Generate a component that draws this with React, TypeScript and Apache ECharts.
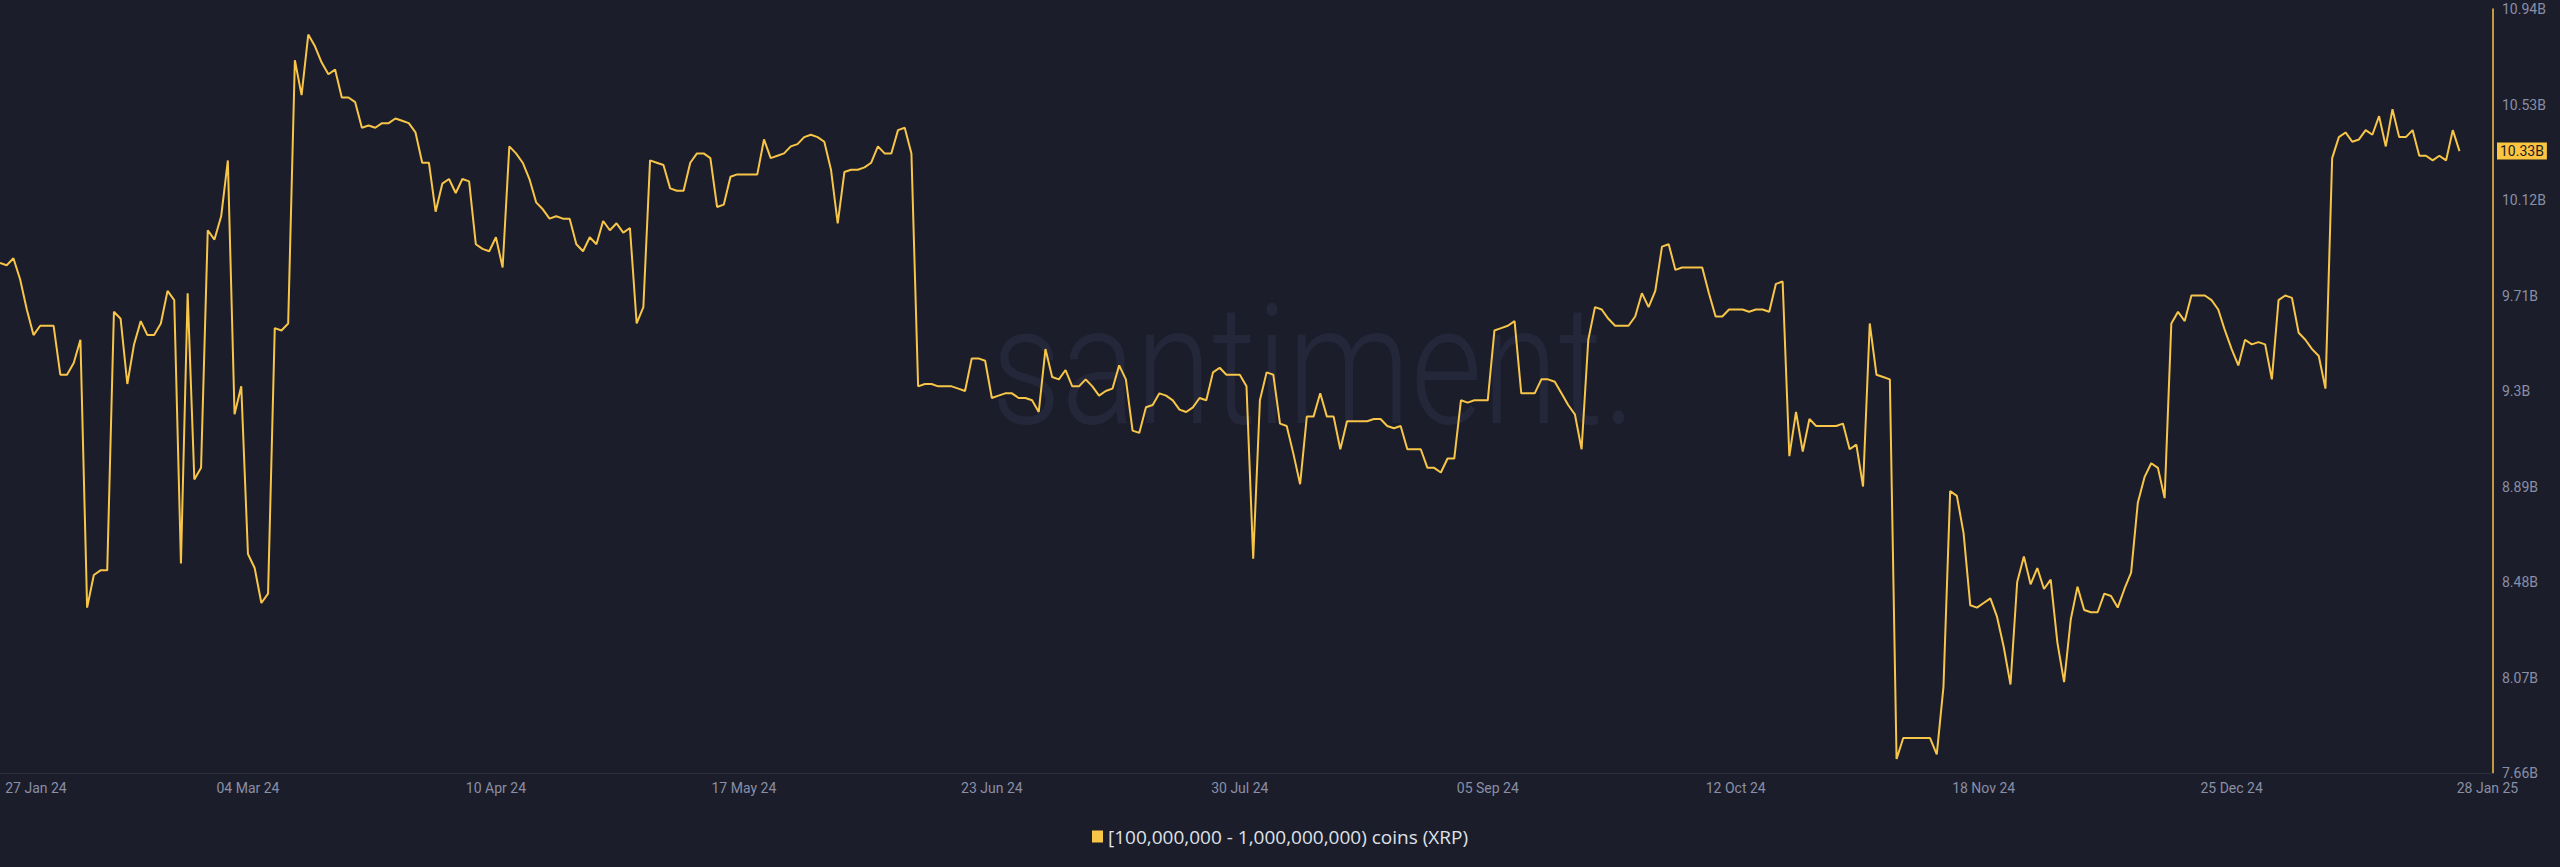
import React, { useEffect, useRef } from "react";
import * as echarts from "echarts";

// ---- data -------------------------------------------------------------
const SERIES_NAME = "[100,000,000 - 1,000,000,000) coins (XRP)";
const MONTHS = ["Jan", "Feb", "Mar", "Apr", "May", "Jun", "Jul", "Aug", "Sep", "Oct", "Nov", "Dec"];
const START = { year: 2024, month: 0, day: 27 }; // 27 Jan 24
const AXIS_DAYS = 373; // axis runs a few days past the last point
const LABEL_STEP = 37; // 27 Jan, 04 Mar, 10 Apr ... 25 Dec
const LAST_LABEL_INDEX = 367; // 28 Jan 25

const Y_MIN = 7.66;
const Y_MAX = 10.94;
const Y_STEP = 0.41;

// daily holdings, billions of XRP (27 Jan 24 -> 28 Jan 25)
const holdings: number[] = [
  9.85, 9.84, 9.87, 9.78, 9.65, 9.54, 9.58, 9.58, 9.58, 9.37,
  9.37, 9.42, 9.52, 8.37, 8.51, 8.53, 8.53, 9.64, 9.61, 9.33,
  9.50, 9.60, 9.54, 9.54, 9.59, 9.73, 9.69, 8.56, 9.72, 8.92,
  8.97, 9.99, 9.95, 10.05, 10.29, 9.20, 9.32, 8.60, 8.54, 8.39,
  8.43, 9.57, 9.56, 9.59, 10.72, 10.57, 10.83, 10.78, 10.71, 10.66,
  10.68, 10.56, 10.56, 10.54, 10.43, 10.44, 10.43, 10.45, 10.45, 10.47,
  10.46, 10.45, 10.41, 10.28, 10.28, 10.07, 10.19, 10.21, 10.15, 10.21,
  10.20, 9.93, 9.91, 9.90, 9.96, 9.83, 10.35, 10.32, 10.28, 10.21,
  10.11, 10.08, 10.04, 10.05, 10.04, 10.04, 9.93, 9.90, 9.96, 9.93,
  10.03, 9.99, 10.02, 9.98, 10.00, 9.59, 9.66, 10.29, 10.28, 10.27,
  10.17, 10.16, 10.16, 10.28, 10.32, 10.32, 10.30, 10.09, 10.10, 10.22,
  10.23, 10.23, 10.23, 10.23, 10.38, 10.30, 10.31, 10.32, 10.35, 10.36,
  10.39, 10.40, 10.39, 10.37, 10.25, 10.02, 10.24, 10.25, 10.25, 10.26,
  10.28, 10.35, 10.32, 10.32, 10.42, 10.43, 10.32, 9.32, 9.33, 9.33,
  9.32, 9.32, 9.32, 9.31, 9.30, 9.44, 9.44, 9.43, 9.27, 9.28,
  9.29, 9.29, 9.27, 9.27, 9.26, 9.21, 9.48, 9.36, 9.35, 9.39,
  9.32, 9.32, 9.35, 9.32, 9.28, 9.30, 9.31, 9.41, 9.35, 9.13,
  9.12, 9.23, 9.24, 9.29, 9.28, 9.26, 9.22, 9.21, 9.23, 9.27,
  9.26, 9.38, 9.40, 9.37, 9.37, 9.37, 9.32, 8.58, 9.26, 9.38,
  9.37, 9.16, 9.15, 9.03, 8.90, 9.19, 9.19, 9.29, 9.19, 9.19,
  9.05, 9.17, 9.17, 9.17, 9.17, 9.18, 9.18, 9.15, 9.14, 9.15,
  9.05, 9.05, 9.05, 8.97, 8.97, 8.95, 9.01, 9.01, 9.26, 9.25,
  9.26, 9.26, 9.26, 9.56, 9.57, 9.58, 9.60, 9.29, 9.29, 9.29,
  9.35, 9.35, 9.34, 9.29, 9.24, 9.20, 9.05, 9.52, 9.66, 9.65,
  9.61, 9.58, 9.58, 9.58, 9.62, 9.72, 9.66, 9.73, 9.92, 9.93,
  9.82, 9.83, 9.83, 9.83, 9.83, 9.72, 9.62, 9.62, 9.65, 9.65,
  9.65, 9.64, 9.65, 9.65, 9.64, 9.76, 9.77, 9.02, 9.21, 9.04,
  9.18, 9.15, 9.15, 9.15, 9.15, 9.16, 9.05, 9.07, 8.89, 9.59,
  9.37, 9.36, 9.35, 7.72, 7.81, 7.81, 7.81, 7.81, 7.81, 7.74,
  8.03, 8.87, 8.85, 8.69, 8.38, 8.37, 8.39, 8.41, 8.33, 8.20,
  8.04, 8.48, 8.59, 8.47, 8.54, 8.45, 8.49, 8.22, 8.05, 8.32,
  8.46, 8.36, 8.35, 8.35, 8.43, 8.42, 8.37, 8.45, 8.52, 8.82,
  8.93, 8.99, 8.97, 8.84, 9.59, 9.64, 9.60, 9.71, 9.71, 9.71,
  9.69, 9.65, 9.56, 9.48, 9.41, 9.52, 9.50, 9.51, 9.50, 9.35,
  9.69, 9.71, 9.70, 9.55, 9.52, 9.48, 9.45, 9.31, 10.30, 10.39,
  10.41, 10.37, 10.38, 10.42, 10.40, 10.48, 10.35, 10.51, 10.39, 10.39,
  10.42, 10.31, 10.31, 10.29, 10.31, 10.29, 10.42, 10.33,
];

const categories: string[] = Array.from({ length: AXIS_DAYS }, (_, i) => {
  const d = new Date(Date.UTC(START.year, START.month, START.day + i));
  const dd = String(d.getUTCDate()).padStart(2, "0");
  const yy = String(d.getUTCFullYear()).slice(2);
  return `${dd} ${MONTHS[d.getUTCMonth()]} ${yy}`;
});

// ---- style --------------------------------------------------------------
const BG = "#1b1d2b";
const YELLOW = "#f7c548";
const AXIS_TEXT = "#8a8fa6";
const FONT = "Roboto, 'Noto Sans', sans-serif";

export default function App() {
  const ref = useRef<HTMLDivElement | null>(null);

  useEffect(() => {
    if (!ref.current) return;
    const chart = echarts.init(ref.current, undefined, { renderer: "svg" });
    const last = holdings[holdings.length - 1];

    chart.setOption({
      animation: false,
      backgroundColor: BG,
      textStyle: { fontFamily: FONT },
      graphic: [
        {
          type: "text",
          z: 0,
          x: 991,
          y: 366,
          scaleX: 0.83,
          silent: true,
          style: {
            text: "santiment.",
            fill: "#232739",
            font: `300 167px ${FONT}`,
            align: "left",
            verticalAlign: "middle",
          },
        },
      ],
      grid: { left: 0, right: 67, top: 9, bottom: 94, containLabel: false },
      legend: {
        show: true,
        left: "center",
        top: 822,
        icon: "rect",
        itemWidth: 11,
        itemHeight: 12,
        itemGap: 10,
        textStyle: { color: "#dfe1e8", fontSize: 19, fontFamily: "'Open Sans', Roboto, sans-serif" },
        data: [SERIES_NAME],
      },
      xAxis: {
        type: "category",
        data: categories,
        boundaryGap: false,
        axisLine: { show: true, lineStyle: { color: "#2b2f40", width: 1 } },
        axisTick: { show: false },
        splitLine: { show: false },
        axisLabel: {
          color: AXIS_TEXT,
          fontSize: 14,
          fontFamily: FONT,
          margin: 8,
          interval: (i: number) =>
            (i % LABEL_STEP === 0 && i < LAST_LABEL_INDEX) || i === LAST_LABEL_INDEX,
          formatter: (value: string, index: number) => {
            if (index === 0) return `{first|${value}}`;
            if (index === LAST_LABEL_INDEX) return `{last|${value}}`;
            return value;
          },
          rich: {
            first: { padding: [0, 0, 0, 72], color: AXIS_TEXT, fontSize: 14, fontFamily: FONT },
            last: { padding: [0, 0, 0, 56], color: AXIS_TEXT, fontSize: 14, fontFamily: FONT },
          },
        },
      },
      yAxis: {
        type: "value",
        position: "right",
        min: Y_MIN,
        max: Y_MAX,
        interval: Y_STEP,
        axisLine: { show: true, lineStyle: { color: YELLOW, width: 1.5 } },
        axisTick: { show: false },
        splitLine: { show: false },
        axisLabel: {
          margin: 9,
          color: AXIS_TEXT,
          fontSize: 14,
          fontFamily: FONT,
          formatter: (v: number) => `${parseFloat(v.toFixed(2))}B`,
        },
      },
      series: [
        {
          name: SERIES_NAME,
          type: "line",
          data: holdings,
          showSymbol: false,
          symbol: "none",
          clip: false,
          z: 3,
          lineStyle: { color: YELLOW, width: 2 },
          itemStyle: { color: YELLOW },
          markLine: {
            silent: true,
            symbol: "none",
            lineStyle: { color: "rgba(0,0,0,0)", width: 0 },
            label: {
              show: true,
              position: "end",
              distance: 4,
              formatter: () => `${last.toFixed(2)}B`,
              backgroundColor: "#fcc43f",
              color: "#1b1d2b",
              fontSize: 14,
              fontFamily: FONT,
              padding: [2, 3, 1, 3],
            },
            data: [{ yAxis: last }],
          },
        },
      ],
    });

    return () => chart.dispose();
  }, []);

  return (
    <div
      ref={ref}
      style={{ position: "absolute", left: 0, top: 0, width: 2560, height: 867, background: BG }}
    />
  );
}
